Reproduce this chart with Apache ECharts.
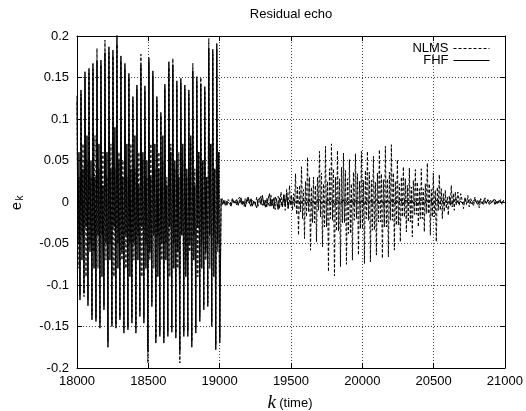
<!DOCTYPE html>
<html>
<head>
<meta charset="utf-8">
<script src="https://cdn.jsdelivr.net/npm/echarts@6/dist/echarts.min.js"></script>
<style>
html,body{margin:0;padding:0;background:#fff;}
#chart{width:526px;height:411px;}
</style>
</head>
<body>
<div id="chart"></div>
<script>
// ---- data ----
const chartTitle = 'Residual echo';
const seriesNames = ['NLMS', 'FHF'];
const xTicks = [18000, 18500, 19000, 19500, 20000, 20500, 21000];
const yTicks = [-0.2, -0.15, -0.1, -0.05, 0, 0.05, 0.1, 0.15, 0.2];

// segment A: k = 18000 + 7*i  (both filters, large residual)
const nlmsA = [
 0.120,-0.08,0.03,-0.112, 0.130,-0.04,0.07,-0.114, 0.150,-0.09,0.05,-0.118, 0.155,-0.05,0.03,-0.136,
 0.160,-0.06,0.08,-0.140, 0.185,-0.08,0.04,-0.145, 0.165,-0.04,0.06,-0.125, 0.195,-0.07,0.03,-0.168,
 0.180,-0.05,0.07,-0.146, 0.176,-0.09,0.04,-0.148, 0.190,-0.05,0.06,-0.138, 0.170,-0.07,0.05,-0.152,
 0.160,-0.08,0.03,-0.150, 0.150,-0.05,0.07,-0.140, 0.122,-0.07,0.04,-0.152, 0.136,-0.04,0.06,-0.132,
 0.178,-0.09,0.05,-0.140, 0.134,-0.05,0.03,-0.194, 0.168,-0.07,0.07,-0.120, 0.152,-0.08,0.04,-0.164,
 0.122,-0.04,0.06,-0.156, 0.104,-0.07,0.05,-0.164, 0.136,-0.05,0.03,-0.156, 0.162,-0.09,0.07,-0.152,
 0.173,-0.05,0.04,-0.158, 0.140,-0.08,0.06,-0.194, 0.143,-0.04,0.05,-0.156, 0.136,-0.07,0.03,-0.156,
 0.130,-0.06,0.07,-0.168, 0.167,-0.04,0.04,-0.152, 0.145,-0.09,0.06,-0.138, 0.150,-0.05,0.05,-0.125,
 0.134,-0.07,0.03,-0.121, 0.197,-0.08,0.07,-0.145, 0.178,-0.04,0.04,-0.172, 0.184,-0.06,0.06,-0.164
];
const fhfA = [
 0.128,-0.05,0.06,-0.118, 0.135,-0.07,0.04,-0.110, 0.157,-0.03,0.08,-0.125, 0.161,-0.06,0.05,-0.142,
 0.167,-0.08,0.03,-0.144, 0.170,-0.04,0.07,-0.152, 0.171,-0.09,0.02,-0.130, 0.180,-0.05,0.06,-0.175,
 0.187,-0.07,0.04,-0.150, 0.183,-0.03,0.09,-0.152, 0.210,-0.08,0.05,-0.142, 0.176,-0.06,0.03,-0.158,
 0.167,-0.04,0.07,-0.154, 0.155,-0.09,0.04,-0.146, 0.127,-0.05,0.08,-0.158, 0.141,-0.07,0.02,-0.138,
 0.165,-0.03,0.06,-0.146, 0.140,-0.08,0.05,-0.180, 0.174,-0.06,0.03,-0.126, 0.158,-0.04,0.07,-0.170,
 0.127,-0.09,0.04,-0.162, 0.108,-0.05,0.08,-0.170, 0.142,-0.07,0.02,-0.162, 0.169,-0.03,0.06,-0.157,
 0.165,-0.08,0.05,-0.164, 0.146,-0.06,0.03,-0.180, 0.149,-0.04,0.07,-0.162, 0.141,-0.09,0.04,-0.162,
 0.135,-0.05,0.08,-0.175, 0.158,-0.07,0.02,-0.158, 0.151,-0.03,0.06,-0.144, 0.142,-0.08,0.05,-0.130,
 0.139,-0.06,0.03,-0.126, 0.185,-0.04,0.07,-0.150, 0.184,-0.09,0.04,-0.178, 0.191,-0.05,0.06,-0.170
];
// segment B: k = 19010 + 10*i  (both small)
const nlmsB = [
 -0.002,0.004,-0.003,0.002,-0.005,0.003,0.001,-0.003,0.005,-0.002,0.002,-0.004,0.003,0.006,-0.003,0.002,
 -0.005,0.004,-0.002,0.005,0.003,-0.006,0.002,0.004,-0.003,0.006,-0.005,0.003,0.007,-0.004,0.002,-0.007,
 0.005,0.003,-0.006,0.008,-0.004,0.006,-0.009,0.004,0.007,-0.008,0.012,-0.006,0.008,-0.010,0.015,-0.008
];
const fhfB = [
 0.004,-0.003,0.002,-0.004,0.001,0.003,-0.002,-0.005,0.002,0.004,-0.001,0.003,-0.004,0.002,0.005,-0.003,
 0.001,-0.006,0.003,0.006,-0.002,0.004,-0.005,0.001,0.003,-0.007,0.002,0.005,-0.003,0.008,-0.004,0.002,
 -0.006,0.004,0.010,-0.005,0.003,-0.008,0.006,0.002,-0.009,0.005,0.004,-0.006,0.009,-0.004,0.011,-0.007
];
// segment C: NLMS k = 19490 + 7*i (residual burst)
const nlmsC = [
 0.020,-0.004,0.008,-0.010,0.010,-0.006,  0.034,-0.015,0.018,-0.040,0.020,-0.012,
 0.0425,-0.020,0.015,-0.044,0.025,-0.018, 0.054,-0.012,0.030,-0.058,0.018,-0.025,
 0.030,-0.025,0.020,-0.048,0.030,-0.010,  0.061,-0.018,0.035,-0.054,0.022,-0.030,
 0.067,-0.030,0.025,-0.084,0.040,-0.020,  0.070,-0.022,0.040,-0.089,0.030,-0.035,
 0.062,-0.035,0.028,-0.078,0.042,-0.025,  0.059,-0.025,0.038,-0.075,0.028,-0.038,
 0.051,-0.038,0.022,-0.070,0.036,-0.022,  0.058,-0.020,0.034,-0.064,0.025,-0.032,
 0.061,-0.032,0.026,-0.074,0.038,-0.020,  0.061,-0.022,0.036,-0.072,0.026,-0.034,
 0.055,-0.034,0.024,-0.064,0.035,-0.024,  0.063,-0.024,0.034,-0.068,0.027,-0.030,
 0.067,-0.030,0.028,-0.066,0.036,-0.022,  0.069,-0.022,0.035,-0.058,0.025,-0.028,
 0.051,-0.028,0.022,-0.048,0.030,-0.018,  0.0425,-0.018,0.028,-0.036,0.020,-0.024,
 0.041,-0.024,0.018,-0.042,0.026,-0.015,  0.039,-0.015,0.024,-0.030,0.016,-0.020,
 0.040,-0.020,0.016,-0.036,0.022,-0.014,  0.047,-0.014,0.022,-0.040,0.015,-0.018,
 0.035,-0.018,0.014,-0.048,0.018,-0.010,  0.033,-0.010,0.016,-0.020,0.010,-0.012,
 0.014,-0.008,0.006,-0.016,0.008,-0.005,  0.020,-0.006,0.010,-0.010,0.012,-0.004
];
// segment D: NLMS k = 20670 + 10*i (tail)
const nlmsD = [
 0.012,-0.004,0.010,0.002,-0.008,0.006,-0.003,0.008,-0.006,0.004,0.000,-0.005,0.006,-0.002,0.003,-0.007,0.004,
 0.001,-0.004,0.005,-0.002,0.003,-0.003,0.002,-0.001,0.003,-0.004,0.002,0.001,-0.002,0.003,-0.003,0.002,0.000
];
// segment C for FHF: k = 19490 + 15*i (converged)
const fhfC = [
 0.002,-0.002,0.003,-0.001,0.002,-0.003,0.001,0.002,-0.002,0.003,
 -0.002,0.001,-0.003,0.002,0.003,-0.002,0.001,-0.002,0.003,-0.001,
 0.002,-0.003,0.002,0.001,-0.002,0.003,-0.002,0.002,-0.001,0.003,
 -0.003,0.002,0.001,-0.002,0.002,-0.003,0.003,-0.001,0.002,-0.002,
 0.001,0.003,-0.002,0.002,-0.003,0.001,0.002,-0.002,0.003,-0.002,
 0.002,-0.001,0.003,-0.003,0.002,0.001,-0.002,0.003,-0.002,0.001,
 -0.003,0.002,0.002,-0.002,0.003,-0.001,0.002,-0.003,0.001,0.002,
 -0.002,0.003,-0.002,0.001,-0.001,0.002,-0.003,0.002,0.003,-0.002,
 0.001,-0.002,0.002,-0.001,0.003,-0.002,0.002,0.001,-0.003,0.002,
 -0.002,0.003,-0.001,0.002,-0.002,0.001,0.003,-0.002,0.002,-0.001,
 0.001
];

// ---- build ----
function seg(start, step, arr) { return arr.map((v, i) => [start + i * step, v]); }
const nlmsData = [].concat(seg(18000, 7, nlmsA), seg(19010, 10, nlmsB), seg(19490, 7, nlmsC), seg(20670, 10, nlmsD));
const fhfData = [].concat(seg(18000, 7, fhfA), seg(19010, 10, fhfB), seg(19490, 15, fhfC));

const FONT = '"Liberation Sans", Arial, Helvetica, sans-serif';
const chart = echarts.init(document.getElementById('chart'), null, { renderer: 'canvas' });

const baseAxisLine = { show: true, onZero: false, lineStyle: { color: '#000', width: 1 } };
const baseTick = { show: true, inside: true, length: 5, lineStyle: { color: '#000' } };
const gridLine = { show: true, lineStyle: { color: '#444', width: 1, type: [1, 2] } };
const fmtY = v => String(+v.toFixed(2));
const fmtX = v => String(Math.round(v));

const legendBase = { right: 36, align: 'right', itemWidth: 36, itemHeight: 12, padding: 0,
  itemStyle: { opacity: 0 }, lineStyle: { width: 1 }, selectedMode: false,
  textStyle: { fontSize: 13, color: '#000', fontFamily: FONT } };

const option = {
  animation: false,
  backgroundColor: '#fff',
  grid: { left: 77, right: 20, top: 36, bottom: 43, containLabel: false },
  legend: [
    Object.assign({ data: [seriesNames[0]], top: 42 }, legendBase),
    Object.assign({ data: [seriesNames[1]], top: 54 }, legendBase)
  ],
  xAxis: [
    { type: 'value', min: xTicks[0], max: xTicks[xTicks.length - 1], interval: 500, position: 'bottom',
      axisLine: baseAxisLine, axisTick: baseTick, splitLine: gridLine,
      axisLabel: { color: '#000', fontSize: 13, fontFamily: FONT, margin: 7, formatter: fmtX } },
    { type: 'value', min: xTicks[0], max: xTicks[xTicks.length - 1], interval: 500, position: 'top',
      axisLine: baseAxisLine, axisTick: baseTick, splitLine: { show: false }, axisLabel: { show: false } }
  ],
  yAxis: [
    { type: 'value', min: yTicks[0], max: yTicks[yTicks.length - 1], interval: 0.05, position: 'left',
      axisLine: baseAxisLine, axisTick: baseTick, splitLine: gridLine,
      axisLabel: { color: '#000', fontSize: 13, fontFamily: FONT, margin: 8, formatter: fmtY } },
    { type: 'value', min: yTicks[0], max: yTicks[yTicks.length - 1], interval: 0.05, position: 'right',
      axisLine: baseAxisLine, axisTick: baseTick, splitLine: { show: false }, axisLabel: { show: false } }
  ],
  series: [
    { name: seriesNames[0], type: 'line', data: nlmsData, xAxisIndex: 0, yAxisIndex: 0,
      showSymbol: false, symbol: 'none', sampling: null, clip: true,
      itemStyle: { color: '#000' },
      lineStyle: { color: '#000', width: 1, type: [3, 2] } },
    { name: seriesNames[1], type: 'line', data: fhfData, xAxisIndex: 0, yAxisIndex: 0,
      showSymbol: false, symbol: 'none', sampling: null, clip: true,
      itemStyle: { color: '#000' },
      lineStyle: { color: '#000', width: 1, type: 'solid' } }
  ],
  graphic: [
    { type: 'text', x: 291, y: 14, style: { text: chartTitle, fontSize: 13, fontFamily: FONT, fill: '#000',
        align: 'center', verticalAlign: 'middle' } },
    { type: 'group', x: 17, y: 202, rotation: Math.PI / 2, children: [
        { type: 'text', x: -4, y: 0, style: { text: 'e', fontSize: 14, fontFamily: FONT, fill: '#000', align: 'center', verticalAlign: 'middle' } },
        { type: 'text', x: 4, y: 3, style: { text: 'k', fontSize: 10, fontFamily: FONT, fill: '#000', align: 'center', verticalAlign: 'middle' } }
    ] },
    { type: 'text', x: 290, y: 403, style: {
        text: '{k|k} {t|(time)}', align: 'center', verticalAlign: 'middle', fill: '#000',
        rich: { k: { fontSize: 19, fontStyle: 'italic', fontFamily: '"Liberation Serif", "DejaVu Serif", serif', fill: '#000' },
                t: { fontSize: 13, fontFamily: FONT, fill: '#000' } } } }
  ]
};
chart.setOption(option);
</script>
</body>
</html>
